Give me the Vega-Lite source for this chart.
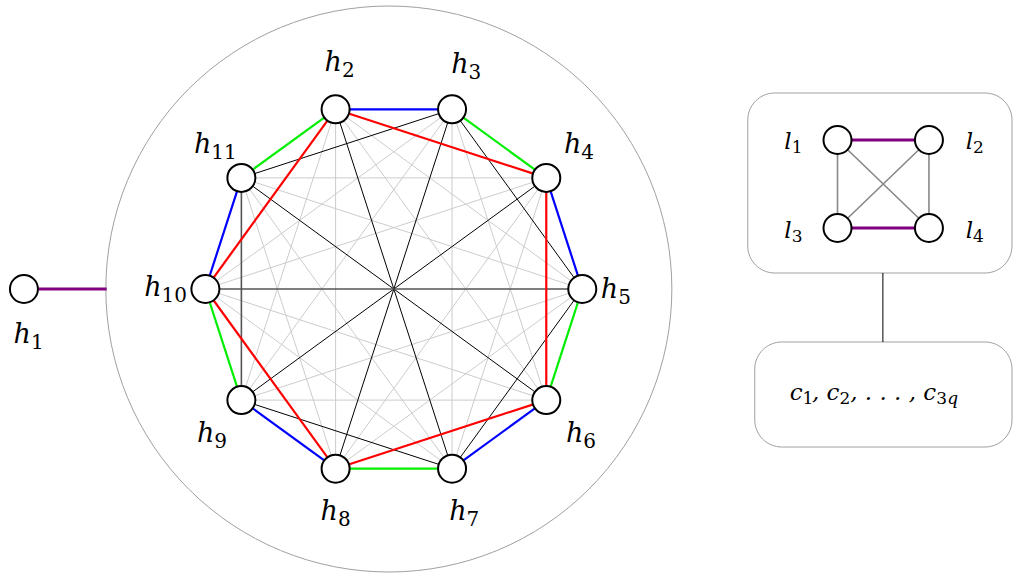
{
  "$schema": "https://vega.github.io/schema/vega-lite/v6.json",
  "width": 1013,
  "height": 577,
  "autosize": {"type": "fit", "contains": "padding"},
  "padding": 0,
  "background": "white",
  "config": {"view": {"stroke": null}},
  "datasets": {
    "nodes": [
      {"id": "h1", "x": 24, "y": 289, "kind": "node"},
      {"id": "h2", "x": 336.6, "y": 109.3, "kind": "node"},
      {"id": "h3", "x": 453.4, "y": 109.3, "kind": "node"},
      {"id": "h4", "x": 547.9, "y": 177.9, "kind": "node"},
      {"id": "h5", "x": 584, "y": 289, "kind": "node"},
      {"id": "h6", "x": 547.9, "y": 400.1, "kind": "node"},
      {"id": "h7", "x": 453.4, "y": 468.7, "kind": "node"},
      {"id": "h8", "x": 336.6, "y": 468.7, "kind": "node"},
      {"id": "h9", "x": 242.1, "y": 400.1, "kind": "node"},
      {"id": "h10", "x": 206, "y": 289, "kind": "node"},
      {"id": "h11", "x": 242.1, "y": 177.9, "kind": "node"},
      {"id": "l1", "x": 840, "y": 140, "kind": "node"},
      {"id": "l2", "x": 931.7, "y": 140, "kind": "node"},
      {"id": "l3", "x": 840, "y": 228, "kind": "node"},
      {"id": "l4", "x": 931.7, "y": 228, "kind": "node"},
      {"id": "a1", "x": 107, "y": 289, "kind": "anchor"},
      {"id": "b1", "x": 885.5, "y": 273, "kind": "anchor"},
      {"id": "b2", "x": 885.5, "y": 342, "kind": "anchor"}
    ],
    "edges": [
      {"s": "h2", "t": "h5", "type": "gray"},
      {"s": "h3", "t": "h6", "type": "gray"},
      {"s": "h4", "t": "h7", "type": "gray"},
      {"s": "h5", "t": "h8", "type": "gray"},
      {"s": "h6", "t": "h9", "type": "gray"},
      {"s": "h7", "t": "h10", "type": "gray"},
      {"s": "h8", "t": "h11", "type": "gray"},
      {"s": "h9", "t": "h2", "type": "gray"},
      {"s": "h10", "t": "h3", "type": "gray"},
      {"s": "h11", "t": "h4", "type": "gray"},
      {"s": "h2", "t": "h6", "type": "gray"},
      {"s": "h3", "t": "h7", "type": "gray"},
      {"s": "h4", "t": "h8", "type": "gray"},
      {"s": "h5", "t": "h9", "type": "gray"},
      {"s": "h6", "t": "h10", "type": "gray"},
      {"s": "h7", "t": "h11", "type": "gray"},
      {"s": "h8", "t": "h2", "type": "gray"},
      {"s": "h9", "t": "h3", "type": "gray"},
      {"s": "h10", "t": "h4", "type": "gray"},
      {"s": "h11", "t": "h5", "type": "gray"},
      {"s": "h2", "t": "h7", "type": "black"},
      {"s": "h3", "t": "h8", "type": "black"},
      {"s": "h4", "t": "h9", "type": "black"},
      {"s": "h5", "t": "h10", "type": "dark"},
      {"s": "h6", "t": "h11", "type": "black"},
      {"s": "h3", "t": "h5", "type": "black"},
      {"s": "h5", "t": "h7", "type": "black"},
      {"s": "h7", "t": "h9", "type": "black"},
      {"s": "h9", "t": "h11", "type": "dark"},
      {"s": "h11", "t": "h3", "type": "black"},
      {"s": "h2", "t": "h3", "type": "blue"},
      {"s": "h4", "t": "h5", "type": "blue"},
      {"s": "h6", "t": "h7", "type": "blue"},
      {"s": "h8", "t": "h9", "type": "blue"},
      {"s": "h10", "t": "h11", "type": "blue"},
      {"s": "h3", "t": "h4", "type": "green"},
      {"s": "h5", "t": "h6", "type": "green"},
      {"s": "h7", "t": "h8", "type": "green"},
      {"s": "h9", "t": "h10", "type": "green"},
      {"s": "h11", "t": "h2", "type": "green"},
      {"s": "h2", "t": "h4", "type": "red"},
      {"s": "h4", "t": "h6", "type": "red"},
      {"s": "h6", "t": "h8", "type": "red"},
      {"s": "h8", "t": "h10", "type": "red"},
      {"s": "h10", "t": "h2", "type": "red"},
      {"s": "l1", "t": "l3", "type": "lgray"},
      {"s": "l2", "t": "l4", "type": "lgray"},
      {"s": "l1", "t": "l4", "type": "lgray"},
      {"s": "l2", "t": "l3", "type": "lgray"},
      {"s": "h1", "t": "a1", "type": "purple"},
      {"s": "l1", "t": "l2", "type": "purple"},
      {"s": "l3", "t": "l4", "type": "purple"},
      {"s": "b1", "t": "b2", "type": "conn"}
    ],
    "labels": [
      {"main": "h", "sub": "1", "x": 31, "y": 343, "g": "h"},
      {"main": "h", "sub": "2", "x": 343, "y": 71, "g": "h"},
      {"main": "h", "sub": "3", "x": 470, "y": 73, "g": "h"},
      {"main": "h", "sub": "4", "x": 583, "y": 153, "g": "h"},
      {"main": "h", "sub": "5", "x": 620, "y": 298, "g": "h"},
      {"main": "h", "sub": "6", "x": 585, "y": 442, "g": "h"},
      {"main": "h", "sub": "7", "x": 468, "y": 520, "g": "h"},
      {"main": "h", "sub": "8", "x": 339, "y": 520, "g": "h"},
      {"main": "h", "sub": "9", "x": 215, "y": 442, "g": "h"},
      {"main": "h", "sub": "10", "x": 162, "y": 296, "g": "h"},
      {"main": "h", "sub": "11", "x": 212, "y": 153, "g": "h"},
      {"main": "l", "sub": "1", "x": 794, "y": 149, "g": "l"},
      {"main": "l", "sub": "2", "x": 976, "y": 149, "g": "l"},
      {"main": "l", "sub": "3", "x": 794, "y": 238, "g": "l"},
      {"main": "l", "sub": "4", "x": 976, "y": 238, "g": "l"},
      {"main": "c", "sub": "1", "x": 805, "y": 400, "g": "l"},
      {"main": ", c", "sub": "2", "x": 842, "y": 400, "g": "l"},
      {"main": ", . . . , c", "sub": "3", "x": 939, "y": 400, "g": "l"},
      {"subi": "q", "x": 950, "y": 400, "g": "q"}
    ],
    "circle": [{"x": 390, "y": 289}],
    "boxes": [
      {"x": 750, "x2": 1015, "y": 93, "y2": 273},
      {"x": 757, "x2": 1015, "y": 342, "y2": 447}
    ]
  },
  "layer": [
    {
      "data": {"name": "circle"},
      "mark": {"type": "point", "shape": "circle", "size": 320356, "filled": false, "stroke": "#a0a0a0", "strokeWidth": 1, "opacity": 1},
      "encoding": {
        "x": {"field": "x", "type": "quantitative", "scale": {"domain": [0, 1013], "nice": false, "zero": false}, "axis": null},
        "y": {"field": "y", "type": "quantitative", "scale": {"domain": [0, 577], "nice": false, "zero": false, "reverse": true}, "axis": null}
      }
    },
    {
      "data": {"name": "boxes"},
      "mark": {"type": "rect", "cornerRadius": 27, "fill": "white", "stroke": "#a0a0a0", "strokeWidth": 1},
      "encoding": {
        "x": {"field": "x", "type": "quantitative", "scale": {"domain": [0, 1013], "nice": false, "zero": false}, "axis": null},
        "x2": {"field": "x2"},
        "y": {"field": "y", "type": "quantitative", "scale": {"domain": [0, 577], "nice": false, "zero": false, "reverse": true}, "axis": null},
        "y2": {"field": "y2"}
      }
    },
    {
      "data": {"name": "edges"},
      "transform": [
        {"filter": "datum.type == 'gray' || datum.type == 'black' || datum.type == 'conn'"},
        {"lookup": "s", "from": {"data": {"name": "nodes"}, "key": "id", "fields": ["x", "y"]}, "as": ["sx", "sy"]},
        {"lookup": "t", "from": {"data": {"name": "nodes"}, "key": "id", "fields": ["x", "y"]}, "as": ["tx", "ty"]}
      ],
      "mark": {"type": "rule", "strokeCap": "butt", "strokeWidth": 1},
      "encoding": {
        "x": {"field": "sx", "type": "quantitative", "scale": {"domain": [0, 1013], "nice": false, "zero": false}, "axis": null},
        "y": {"field": "sy", "type": "quantitative", "scale": {"domain": [0, 577], "nice": false, "zero": false, "reverse": true}, "axis": null},
        "x2": {"field": "tx"},
        "y2": {"field": "ty"},
        "color": {"field": "type", "type": "nominal", "legend": null,
          "scale": {"domain": ["gray", "black", "dark", "red", "blue", "green", "purple", "lgray", "conn"],
                    "range": ["#cccccc", "#000000", "#555555", "#ff0000", "#0000ff", "#00ee00", "#800080", "#888888", "#000000"]}}
      }
    },
    {
      "data": {"name": "edges"},
      "transform": [
        {"filter": "datum.type == 'dark' || datum.type == 'lgray'"},
        {"lookup": "s", "from": {"data": {"name": "nodes"}, "key": "id", "fields": ["x", "y"]}, "as": ["sx", "sy"]},
        {"lookup": "t", "from": {"data": {"name": "nodes"}, "key": "id", "fields": ["x", "y"]}, "as": ["tx", "ty"]}
      ],
      "mark": {"type": "rule", "strokeCap": "butt", "strokeWidth": 1.6},
      "encoding": {
        "x": {"field": "sx", "type": "quantitative", "scale": {"domain": [0, 1013], "nice": false, "zero": false}, "axis": null},
        "y": {"field": "sy", "type": "quantitative", "scale": {"domain": [0, 577], "nice": false, "zero": false, "reverse": true}, "axis": null},
        "x2": {"field": "tx"},
        "y2": {"field": "ty"},
        "color": {"field": "type", "type": "nominal", "legend": null}
      }
    },
    {
      "data": {"name": "edges"},
      "transform": [
        {"filter": "datum.type == 'red' || datum.type == 'blue' || datum.type == 'green'"},
        {"lookup": "s", "from": {"data": {"name": "nodes"}, "key": "id", "fields": ["x", "y"]}, "as": ["sx", "sy"]},
        {"lookup": "t", "from": {"data": {"name": "nodes"}, "key": "id", "fields": ["x", "y"]}, "as": ["tx", "ty"]}
      ],
      "mark": {"type": "rule", "strokeCap": "butt", "strokeWidth": 2.2},
      "encoding": {
        "x": {"field": "sx", "type": "quantitative", "scale": {"domain": [0, 1013], "nice": false, "zero": false}, "axis": null},
        "y": {"field": "sy", "type": "quantitative", "scale": {"domain": [0, 577], "nice": false, "zero": false, "reverse": true}, "axis": null},
        "x2": {"field": "tx"},
        "y2": {"field": "ty"},
        "color": {"field": "type", "type": "nominal", "legend": null}
      }
    },
    {
      "data": {"name": "edges"},
      "transform": [
        {"filter": "datum.type == 'purple'"},
        {"lookup": "s", "from": {"data": {"name": "nodes"}, "key": "id", "fields": ["x", "y"]}, "as": ["sx", "sy"]},
        {"lookup": "t", "from": {"data": {"name": "nodes"}, "key": "id", "fields": ["x", "y"]}, "as": ["tx", "ty"]}
      ],
      "mark": {"type": "rule", "strokeCap": "butt", "strokeWidth": 3},
      "encoding": {
        "x": {"field": "sx", "type": "quantitative", "scale": {"domain": [0, 1013], "nice": false, "zero": false}, "axis": null},
        "y": {"field": "sy", "type": "quantitative", "scale": {"domain": [0, 577], "nice": false, "zero": false, "reverse": true}, "axis": null},
        "x2": {"field": "tx"},
        "y2": {"field": "ty"},
        "color": {"field": "type", "type": "nominal", "legend": null}
      }
    },
    {
      "data": {"name": "nodes"},
      "transform": [{"filter": "datum.kind == 'node'"}],
      "mark": {"type": "point", "shape": "circle", "size": 784, "filled": true, "fill": "white", "stroke": "black", "strokeWidth": 2, "opacity": 1},
      "encoding": {
        "x": {"field": "x", "type": "quantitative", "scale": {"domain": [0, 1013], "nice": false, "zero": false}, "axis": null},
        "y": {"field": "y", "type": "quantitative", "scale": {"domain": [0, 577], "nice": false, "zero": false, "reverse": true}, "axis": null}
      }
    },
    {
      "data": {"name": "labels"},
      "transform": [{"filter": "datum.g == 'h'"}],
      "mark": {"type": "text", "font": "DejaVu Serif", "fontStyle": "italic", "fontSize": 27, "align": "right", "baseline": "alphabetic", "color": "black"},
      "encoding": {
        "x": {"field": "x", "type": "quantitative", "scale": {"domain": [0, 1013], "nice": false, "zero": false}, "axis": null},
        "y": {"field": "y", "type": "quantitative", "scale": {"domain": [0, 577], "nice": false, "zero": false, "reverse": true}, "axis": null},
        "text": {"field": "main"}
      }
    },
    {
      "data": {"name": "labels"},
      "transform": [{"filter": "datum.g == 'h'"}],
      "mark": {"type": "text", "font": "DejaVu Serif", "fontSize": 20, "align": "left", "baseline": "alphabetic", "dy": 6, "color": "black"},
      "encoding": {
        "x": {"field": "x", "type": "quantitative", "scale": {"domain": [0, 1013], "nice": false, "zero": false}, "axis": null},
        "y": {"field": "y", "type": "quantitative", "scale": {"domain": [0, 577], "nice": false, "zero": false, "reverse": true}, "axis": null},
        "text": {"field": "sub"}
      }
    },
    {
      "data": {"name": "labels"},
      "transform": [{"filter": "datum.g == 'l'"}],
      "mark": {"type": "text", "font": "DejaVu Serif", "fontStyle": "italic", "fontSize": 23, "align": "right", "baseline": "alphabetic", "color": "black"},
      "encoding": {
        "x": {"field": "x", "type": "quantitative", "scale": {"domain": [0, 1013], "nice": false, "zero": false}, "axis": null},
        "y": {"field": "y", "type": "quantitative", "scale": {"domain": [0, 577], "nice": false, "zero": false, "reverse": true}, "axis": null},
        "text": {"field": "main"}
      }
    },
    {
      "data": {"name": "labels"},
      "transform": [{"filter": "datum.g == 'l'"}],
      "mark": {"type": "text", "font": "DejaVu Serif", "fontSize": 17, "align": "left", "baseline": "alphabetic", "dy": 4, "color": "black"},
      "encoding": {
        "x": {"field": "x", "type": "quantitative", "scale": {"domain": [0, 1013], "nice": false, "zero": false}, "axis": null},
        "y": {"field": "y", "type": "quantitative", "scale": {"domain": [0, 577], "nice": false, "zero": false, "reverse": true}, "axis": null},
        "text": {"field": "sub"}
      }
    },
    {
      "data": {"name": "labels"},
      "transform": [{"filter": "datum.g == 'q'"}],
      "mark": {"type": "text", "font": "DejaVu Serif", "fontStyle": "italic", "fontSize": 17, "align": "left", "baseline": "alphabetic", "dy": 4, "color": "black"},
      "encoding": {
        "x": {"field": "x", "type": "quantitative", "scale": {"domain": [0, 1013], "nice": false, "zero": false}, "axis": null},
        "y": {"field": "y", "type": "quantitative", "scale": {"domain": [0, 577], "nice": false, "zero": false, "reverse": true}, "axis": null},
        "text": {"field": "subi"}
      }
    }
  ]
}
